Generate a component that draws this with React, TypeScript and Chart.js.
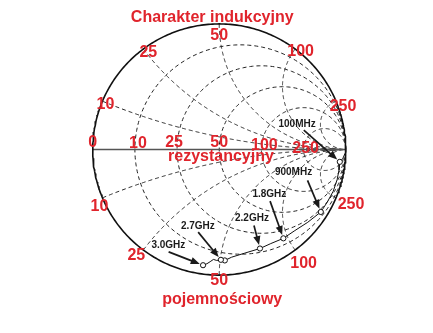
import React, { useEffect, useRef } from 'react';
import { Chart, registerables } from 'chart.js';

Chart.register(...registerables);

// ---- data ----
const Z0 = 50; // ohm
const resistanceValues = [0.2, 0.5, 1, 2, 5]; // normalized r circles
const reactanceValues = [0.2, 0.5, 1, 2, 5]; // normalized |x| arcs
// measured reflection coefficient trace (Re, Im) read from the picture
const traceRe = [0.994, 0.978, 0.953, 0.947, 0.932, 0.901, 0.855, 0.803, 0.7, 0.592, 0.507, 0.407, 0.322, 0.198, 0.098, 0.044, 0.013, -0.02, -0.046, -0.072, -0.097, -0.128];
const traceIm = [-0.031, -0.069, -0.098, -0.162, -0.239, -0.332, -0.417, -0.497, -0.579, -0.649, -0.707, -0.749, -0.788, -0.826, -0.857, -0.883, -0.878, -0.883, -0.875, -0.893, -0.909, -0.921];
const markerIndex = [2, 7, 10, 12, 15, 16, 21];
const freqLabels = ['100MHz', '900MHz', '1.8GHz', '2.2GHz', '2.7GHz', '3.0GHz'];
const freqMarker = [2, 7, 10, 12, 16, 21];
const titleTop = 'Charakter indukcyjny';
const titleMid = 'rezystancyjny';
const titleBottom = 'pojemnościowy';

// ---- layout / style (pixel offsets) ----
const RED = '#e0242c';
const BIG = 'bold 16px "Liberation Sans", Arial, sans-serif';
const SMALL = 'bold 10px "Liberation Sans", Arial, sans-serif';
const CAP_HALF = 5.7;
const resLabelOffset: [number, number][] = [[0, -8], [3, -7], [-3, -8], [0, -8.5], [3, -5.5], [2, -2.5]]; // r=0 then r values
const reactUpperOffset: [number, number][] = [[3, 2], [5, 2.4], [0, 10.5], [5.5, 1], [7, 4]];
const reactLowerOffset: [number, number][] = [[-3, 7.4], [-7, 4.4], [0, 4.5], [8.5, 12], [15, 5]];
const freqLabelOffset: [number, number][] = [[-42.7, -37.7], [-27.3, -39.3], [-14, -44], [-8, -30], [-23, -33.7], [-34.7, -19.8]];
const arrowStartOffset: [number, number][] = [[-36, -31.7], [-13.3, -31.6], [-13.3, -37.2], [-6, -23], [-22.7, -27.7], [-34.4, -13.3]];

const W = 433, H = 333;
const CX = 219.3, CY = 149, R = 129.5;

function circlePts(cx: number, cy: number, rad: number, n = 240) {
  const pts = [];
  for (let i = 0; i <= n; i++) {
    const a = (2 * Math.PI * i) / n;
    pts.push({ x: cx + rad * Math.cos(a), y: cy + rad * Math.sin(a) });
  }
  return pts;
}

function gamma(r: number, x: number) {
  const d = (r + 1) * (r + 1) + x * x;
  return { x: (r * r + x * x - 1) / d, y: (2 * x) / d };
}

function reactancePts(x: number, n = 300) {
  const pts = [];
  for (let i = 0; i < n; i++) {
    const t = (i / n) * (Math.PI / 2) * 0.9995;
    pts.push(gamma(Math.tan(t), x));
  }
  pts.push({ x: 1, y: 0 });
  return pts;
}

const dashed = {
  showLine: true,
  borderColor: '#222',
  borderWidth: 1,
  borderDash: [4, 3],
  pointRadius: 0,
  fill: false,
  tension: 0,
  order: 4,
};

const labelPlugin = {
  id: 'smithLabels',
  afterDatasetsDraw(chart: any) {
    const ctx = chart.ctx as CanvasRenderingContext2D;
    const xs = chart.scales.x;
    const ys = chart.scales.y;
    const px = (v: number) => xs.getPixelForValue(v);
    const py = (v: number) => ys.getPixelForValue(v);
    ctx.save();
    ctx.textAlign = 'center';
    ctx.textBaseline = 'alphabetic';
    ctx.font = BIG;
    ctx.fillStyle = RED;

    // resistance labels (incl. 0)
    const rs = [0, ...resistanceValues];
    rs.forEach((r, i) => {
      const g = (r - 1) / (r + 1);
      const [dx, dy] = resLabelOffset[i];
      ctx.fillText(String(Math.round(r * Z0)), px(g) + dx, py(0) + dy + CAP_HALF);
    });
    // reactance labels
    reactanceValues.forEach((x, i) => {
      const up = gamma(0, x);
      const [dx, dy] = reactUpperOffset[i];
      ctx.fillText(String(Math.round(x * Z0)), px(up.x) + dx, py(up.y) + dy + CAP_HALF);
      const lo = gamma(0, -x);
      const [ex, ey] = reactLowerOffset[i];
      ctx.fillText(String(Math.round(x * Z0)), px(lo.x) + ex, py(lo.y) + ey + CAP_HALF);
    });
    ctx.fillText(titleTop, px(0) - 7, py(1) - 2.2);
    ctx.fillText(titleMid, px(0) + 1.7, py(0) + 11.7);
    ctx.fillText(titleBottom, px(0) + 3, py(-1) + 29.2);

    // frequency labels + arrows
    ctx.font = SMALL;
    ctx.fillStyle = '#1a1a1a';
    ctx.textBaseline = 'middle';
    freqLabels.forEach((lab, i) => {
      const k = freqMarker[i];
      const mx = px(traceRe[k]);
      const my = py(traceIm[k]);
      const [lx, ly] = freqLabelOffset[i];
      ctx.fillText(lab, mx + lx, my + ly);
      const [sx, sy] = arrowStartOffset[i];
      const x0 = mx + sx, y0 = my + sy;
      const dxa = mx - x0, dya = my - y0;
      const len = Math.hypot(dxa, dya);
      const ux = dxa / len, uy = dya / len;
      const tx = mx - ux * 3.5, ty = my - uy * 3.5;
      const hl = 9, hw = 3.6;
      ctx.strokeStyle = '#1a1a1a';
      ctx.lineWidth = 1.7;
      ctx.beginPath();
      ctx.moveTo(x0, y0);
      ctx.lineTo(tx - ux * hl * 0.8, ty - uy * hl * 0.8);
      ctx.stroke();
      ctx.beginPath();
      ctx.moveTo(tx, ty);
      ctx.lineTo(tx - ux * hl - uy * hw, ty - uy * hl + ux * hw);
      ctx.lineTo(tx - ux * hl + uy * hw, ty - uy * hl - ux * hw);
      ctx.closePath();
      ctx.fill();
    });
    ctx.restore();
  },
};

export default function App() {
  const ref = useRef<HTMLCanvasElement | null>(null);
  useEffect(() => {
    document.body.style.margin = '0';
    if (!ref.current) return;
    const datasets: any[] = [];
    datasets.push({
      label: 'trace',
      data: traceRe.map((v, i) => ({ x: v, y: traceIm[i] })),
      showLine: true,
      borderColor: '#111',
      borderWidth: 1,
      tension: 0,
      fill: false,
      pointRadius: traceRe.map((_, i) => (markerIndex.includes(i) ? 2.6 : 0)),
      pointBackgroundColor: '#fff',
      pointBorderColor: '#111',
      pointBorderWidth: 1,
      order: 0,
    });
    datasets.push({
      label: 'edge',
      data: circlePts(0, 0, 1, 360),
      showLine: true,
      borderColor: '#111',
      borderWidth: 1.6,
      pointRadius: 0,
      fill: false,
      tension: 0,
      order: 1,
    });
    datasets.push({
      label: 'axis',
      data: [{ x: -1, y: 0 }, { x: 1, y: 0 }],
      showLine: true,
      borderColor: '#555',
      borderWidth: 1.5,
      pointRadius: 0,
      fill: false,
      order: 2,
    });
    resistanceValues.forEach((r) => {
      datasets.push({ ...dashed, label: 'r' + r, data: circlePts(r / (1 + r), 0, 1 / (1 + r)) });
    });
    reactanceValues.forEach((x) => {
      datasets.push({ ...dashed, label: 'x+' + x, data: reactancePts(x) });
      datasets.push({ ...dashed, label: 'x-' + x, data: reactancePts(-x) });
    });

    const chart = new Chart(ref.current, {
      type: 'scatter',
      data: { datasets },
      options: {
        animation: false,
        responsive: false,
        devicePixelRatio: 1,
        events: [],
        layout: { padding: 0 },
        plugins: { legend: { display: false }, tooltip: { enabled: false } },
        scales: {
          x: { type: 'linear', min: -CX / R, max: (W - CX) / R, display: false },
          y: { type: 'linear', min: -(H - CY) / R, max: CY / R, display: false },
        },
      },
      plugins: [labelPlugin],
    });
    return () => chart.destroy();
  }, []);
  return (
    <div style={{ position: 'absolute', left: 0, top: 0, width: W, height: H, background: '#fff' }}>
      <canvas ref={ref} width={W} height={H} style={{ display: 'block' }} />
    </div>
  );
}
